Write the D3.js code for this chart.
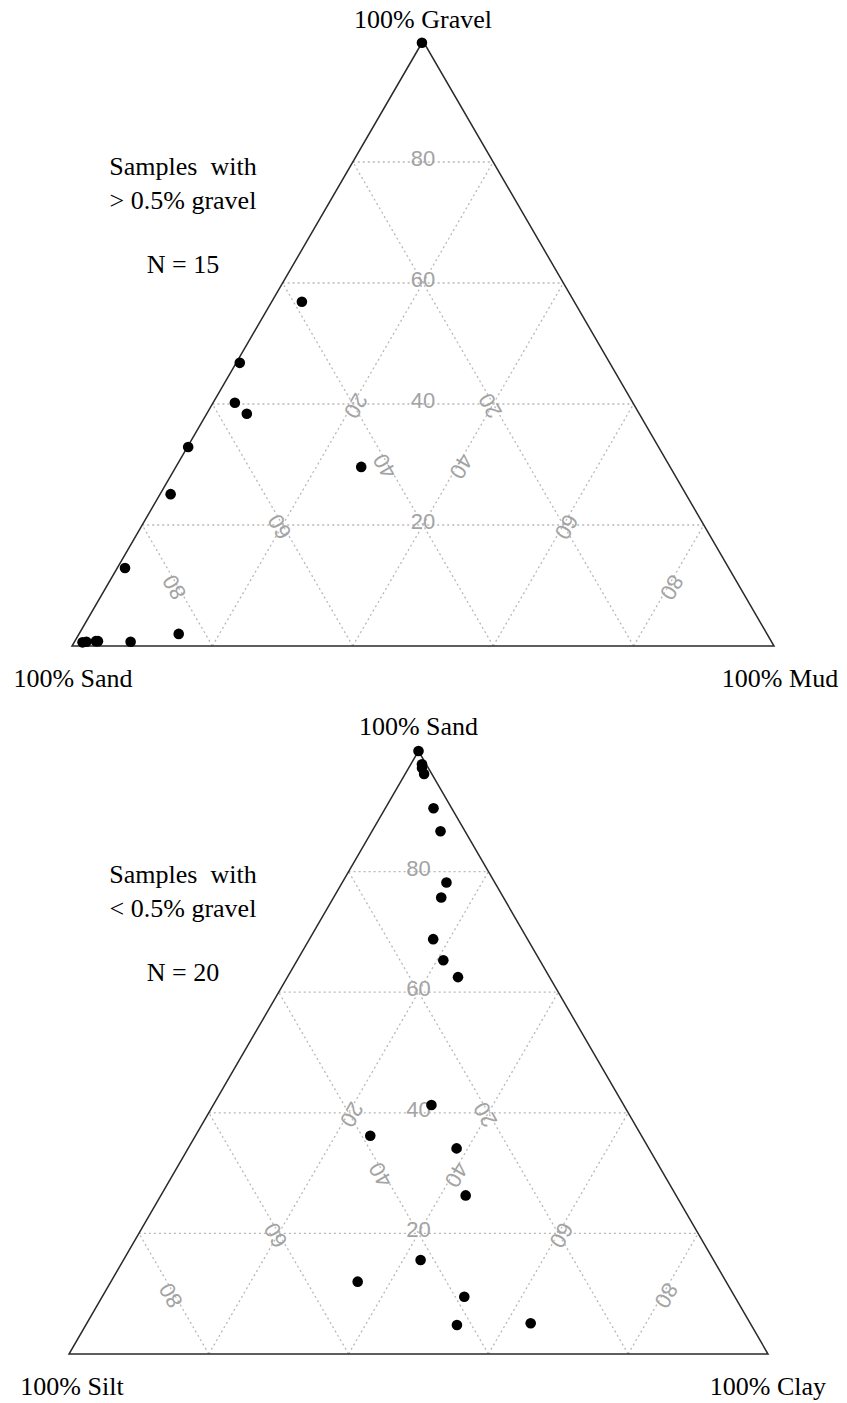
<!DOCTYPE html>
<html>
<head>
<meta charset="utf-8">
<script src="https://cdn.jsdelivr.net/npm/d3@7"></script>
<style>
  html, body { margin: 0; padding: 0; background: #fff; }
  svg { display: block; }
</style>
</head>
<body>
<svg id="chart" width="847" height="1403"></svg>
<script>
// ---------- DATA ----------
// Upper diagram: samples with > 0.5% gravel (percent)
const topGravel = [99.7, 56.9, 46.8, 40.2, 38.4, 32.9, 29.6, 25.1, 12.9, 2.0, 0.7, 0.8, 0.8, 0.7, 0.6];
const topSand   = [ 0.3, 38.8, 52.7, 56.7, 55.9, 67.0, 44.0, 73.4, 86.0, 83.8, 91.3, 95.9, 96.2, 97.6, 98.2];
const topMud    = [ 0.0,  4.3,  0.5,  3.1,  5.7,  0.1, 26.4,  1.5,  1.1, 14.2,  8.0,  3.3,  3.0,  1.7,  1.2];

// Lower diagram: samples with < 0.5% gravel (percent)
const botSand = [100.0, 97.8, 97.2, 96.2, 90.5, 86.7, 78.2, 75.7, 68.8, 65.3, 62.5, 41.3, 36.2, 34.1, 26.3, 15.6, 12.0,  9.5,  4.8,  5.1];
const botSilt = [  0.0,  0.6,  0.9,  1.1,  2.6,  3.5,  6.9,  8.9, 13.5, 13.8, 13.1, 27.5, 38.8, 27.5, 30.1, 41.9, 52.7, 38.7, 42.1, 31.4];
const botClay = [  0.0,  1.6,  1.9,  2.7,  6.9,  9.8, 14.9, 15.4, 17.7, 20.9, 24.4, 31.2, 25.0, 38.4, 43.6, 42.5, 35.3, 51.8, 53.1, 63.5];

const gridValues = [20, 40, 60, 80];
const gridLabels = ["20", "40", "60", "80"];

const topVertexLabels = ["100% Gravel", "100% Sand", "100% Mud"];
const botVertexLabels = ["100% Sand", "100% Silt", "100% Clay"];
const topNote = ["Samples  with", "> 0.5% gravel", "N = 15"];
const botNote = ["Samples  with", "< 0.5% gravel", "N = 20"];

// ---------- DRAW ----------
const svg = d3.select("#chart");

function ternary(cfg) {
  const g = svg.append("g");
  const x = d3.scaleLinear().domain([0, 100]).range([cfg.left, cfg.right]);
  const y = d3.scaleLinear().domain([0, 100]).range([cfg.base, cfg.apex]);
  const P = (t, l, r) => {
    const s = t + l + r;
    t = t / s * 100; r = r / s * 100;
    return [x(r + t / 2), y(t)];
  };

  const lines = [];
  gridValues.forEach((v, i) => {
    lines.push({ a: P(v, 100 - v, 0), b: P(v, 0, 100 - v), label: gridLabels[i], kind: "top" });
    lines.push({ a: P(0, 100 - v, v), b: P(100 - v, 0, v), label: gridLabels[i], kind: "right" });
    lines.push({ a: P(0, v, 100 - v), b: P(100 - v, v, 0), label: gridLabels[i], kind: "left" });
  });

  g.selectAll("line.grid").data(lines).enter().append("line")
    .attr("class", "grid")
    .attr("x1", d => d.a[0]).attr("y1", d => d.a[1])
    .attr("x2", d => d.b[0]).attr("y2", d => d.b[1])
    .attr("stroke", "#b8b8b8").attr("stroke-width", 1.3)
    .attr("stroke-dasharray", "2,3");

  g.selectAll("text.glab").data(lines).enter().append("text")
    .attr("class", "glab")
    .attr("transform", d => {
      const mx = d.kind === "top" ? x(50) : (d.a[0] + d.b[0]) / 2;
      const my = (d.a[1] + d.b[1]) / 2;
      const rot = d.kind === "top" ? 0 : (d.kind === "right" ? 120 : -120);
      return `translate(${mx},${my}) rotate(${rot})`;
    })
    .attr("y", 4)
    .attr("text-anchor", "middle")
    .attr("font-family", "'Liberation Sans', Arial, sans-serif")
    .attr("font-size", 22)
    .attr("fill", "#a3a3a3")
    .text(d => d.label);

  const tri = [P(100, 0, 0), P(0, 100, 0), P(0, 0, 100)];
  g.append("path")
    .attr("d", d3.line()(tri) + "Z")
    .attr("fill", "none").attr("stroke", "#2a2a2a").attr("stroke-width", 1.5);

  const pts = cfg.t.map((t, i) => P(t, cfg.l[i], cfg.r[i]));
  g.selectAll("circle.pt").data(pts).enter().append("circle")
    .attr("class", "pt")
    .attr("cx", d => d[0]).attr("cy", d => d[1]).attr("r", 5.3)
    .attr("fill", "#000");

  const serif = "'Liberation Serif', 'Times New Roman', serif";
  const vl = [
    { txt: cfg.vlabels[0], x: x(50), y: cfg.apex + cfg.topLabOff },
    { txt: cfg.vlabels[1], x: cfg.left + cfg.leftLabDx, y: cfg.base + cfg.baseLabOff },
    { txt: cfg.vlabels[2], x: cfg.right + cfg.rightLabDx, y: cfg.base + cfg.baseLabOff }
  ];
  g.selectAll("text.vlab").data(vl).enter().append("text")
    .attr("class", "vlab")
    .attr("x", d => d.x).attr("y", d => d.y)
    .attr("text-anchor", "middle")
    .attr("font-family", serif).attr("font-size", 26)
    .attr("fill", "#000")
    .text(d => d.txt);

  const ny = [cfg.noteY, cfg.noteY + 34, cfg.noteY + 98];
  g.selectAll("text.note").data(cfg.note).enter().append("text")
    .attr("class", "note")
    .attr("x", 183).attr("y", (d, i) => ny[i])
    .attr("text-anchor", "middle")
    .attr("font-family", serif).attr("font-size", 26)
    .attr("fill", "#000")
    .style("white-space", "pre")
    .attr("xml:space", "preserve")
    .text(d => d);
}

ternary({
  left: 72, right: 774, base: 646, apex: 41,
  t: topGravel, l: topSand, r: topMud,
  vlabels: topVertexLabels,
  topLabOff: -13, baseLabOff: 41, leftLabDx: 1, rightLabDx: 6,
  note: topNote, noteY: 175
});

ternary({
  left: 69, right: 768, base: 1354, apex: 751,
  t: botSand, l: botSilt, r: botClay,
  vlabels: botVertexLabels,
  topLabOff: -16, baseLabOff: 41, leftLabDx: 3, rightLabDx: 0,
  note: botNote, noteY: 883
});
</script>
</body>
</html>
